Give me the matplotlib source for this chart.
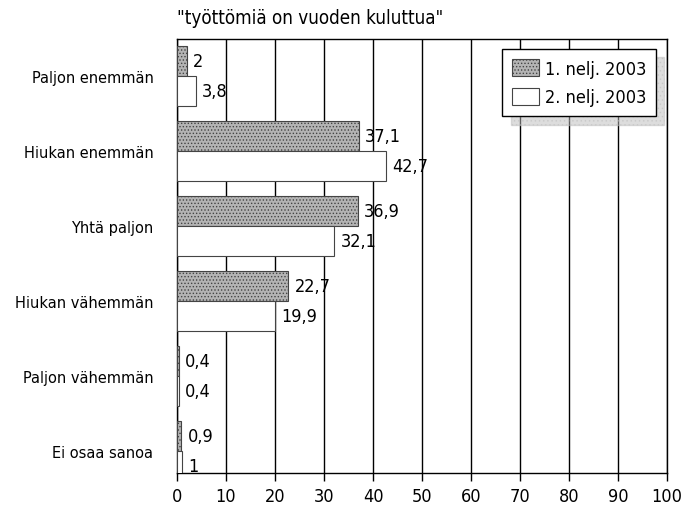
import matplotlib
matplotlib.use("Agg")
import matplotlib.pyplot as plt
import numpy as np

categories = ["Paljon enemmän", "Hiukan enemmän", "Yhtä paljon", "Hiukan vähemmän", "Paljon vähemmän", "Ei osaa sanoa"]
q1 = [2, 37.1, 36.9, 22.7, 0.4, 0.9]
q2 = [3.8, 42.7, 32.1, 19.9, 0.4, 1]
series_names = ["1. nelj. 2003", "2. nelj. 2003"]
title = "\"työttömiä on vuoden kuluttua\""
xticks = list(range(0, 101, 10))

plt.rcParams['font.family'] = ['DejaVu Sans']
plt.rcParams['font.stretch'] = 'condensed'
plt.rcParams['hatch.color'] = '#555555'
plt.rcParams['hatch.linewidth'] = 0.6

fig = plt.figure(figsize=(6.82, 5.06), dpi=100)
ax = fig.add_axes([177/682, 32/506, 490/682, 434/506])

y = np.arange(len(categories))
h = 0.4
ax.barh(y - h/2, q1, height=h, color='#b4b4b4', edgecolor='#444444', linewidth=0.8, hatch='.....', label=series_names[0], zorder=3)
ax.barh(y + h/2, q2, height=h, color='white', edgecolor='#444444', linewidth=0.8, label=series_names[1], zorder=3)

def fmt(v):
    return f"{v:g}".replace('.', ',')

for yi, v in zip(y - h/2, q1):
    ax.text(v + 1.3, yi, fmt(v), va='center', ha='left', fontsize=13, zorder=4)
for yi, v in zip(y + h/2, q2):
    ax.text(v + 1.3, yi, fmt(v), va='center', ha='left', fontsize=13, zorder=4)

ax.set_xlim(0, 100)
ax.set_ylim(5.29, -0.49)
ax.set_xticks(xticks)
ax.set_xticklabels([str(t) for t in xticks], fontsize=13)
ax.set_yticks(y)
ax.set_yticklabels(categories, fontsize=11.7)
ax.tick_params(axis='y', length=0, pad=17)
ax.tick_params(axis='x', length=6, direction='out', width=1, pad=4)
ax.grid(axis='x', color='black', linewidth=1, zorder=1)
for s in ax.spines.values():
    s.set_linewidth(1)
    s.set_color('black')

fig.text(177/682, 1 - 18/506, title, fontsize=13.5, ha='left', va='center')

leg = ax.legend(loc='upper right', bbox_to_anchor=(656/682, 1 - 50/506), bbox_transform=fig.transFigure,
                fontsize=13, frameon=True, fancybox=False, shadow={'color': '#bdbdbd', 'hatch': '....', 'ox': 6, 'oy': -6},
                handlelength=1.5, handleheight=1.1, handletextpad=0.3, borderpad=0.55, labelspacing=0.55,
                borderaxespad=0)
leg.get_frame().set_edgecolor('black')
leg.get_frame().set_linewidth(1)
leg.set_zorder(5)

fig.savefig("out.png", dpi=100)
